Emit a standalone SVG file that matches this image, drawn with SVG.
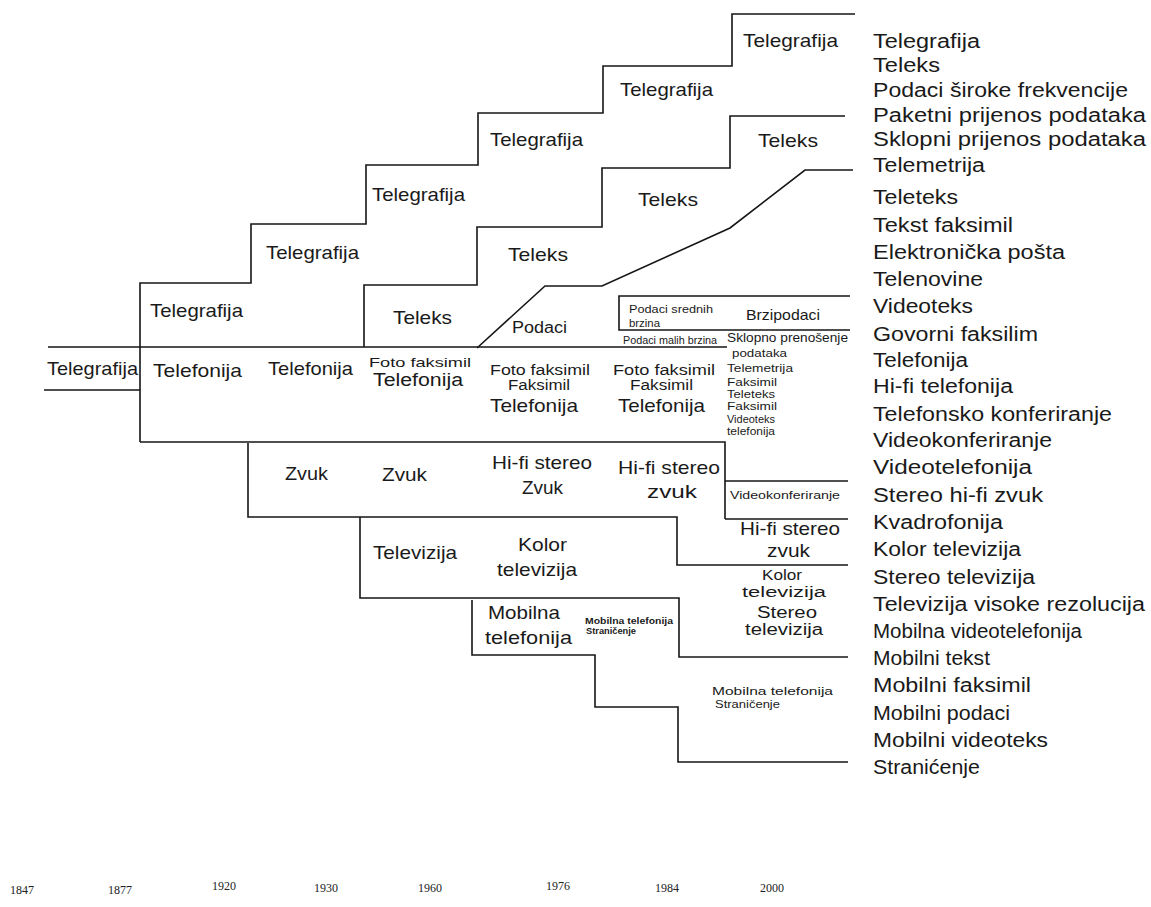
<svg xmlns="http://www.w3.org/2000/svg" width="1151" height="907" viewBox="0 0 1151 907">
<style>
.ln{fill:none;stroke:#161616;stroke-width:1.6;stroke-linejoin:miter}
.t{font-family:"Liberation Sans",Arial,sans-serif;fill:#1a1a1a}
.l{font-size:19px}
.m{font-size:15px}
.s{font-size:11px}
.xs{font-size:9px;font-weight:bold}
.r{font-size:20px}
.y{font-size:12px;font-family:"Liberation Serif","Times New Roman",serif;fill:#222}
</style>
<rect width="1151" height="907" fill="#fff"/>

<g id="band-telegrafija">
  <path class="ln" d="M48,347 H140 M44,390 H140 M140,442 V283 H251 V224 H366 V165 H478 V113 H603 V66 H732 V14 H855"/>
  <text class="t l" x="47" y="375" textLength="91" lengthAdjust="spacingAndGlyphs">Telegrafija</text>
  <text class="t l" x="150" y="317" textLength="93" lengthAdjust="spacingAndGlyphs">Telegrafija</text>
  <text class="t l" x="266" y="259" textLength="93" lengthAdjust="spacingAndGlyphs">Telegrafija</text>
  <text class="t l" x="372" y="201" textLength="93" lengthAdjust="spacingAndGlyphs">Telegrafija</text>
  <text class="t l" x="490" y="146" textLength="93" lengthAdjust="spacingAndGlyphs">Telegrafija</text>
  <text class="t l" x="620" y="96" textLength="93" lengthAdjust="spacingAndGlyphs">Telegrafija</text>
  <text class="t l" x="743" y="47" textLength="95" lengthAdjust="spacingAndGlyphs">Telegrafija</text>
</g>

<g id="band-teleks">
  <path class="ln" d="M364,347 V285 H477 V227 H602 V168 H730 V116 H845"/>
  <text class="t l" x="393" y="324" textLength="59" lengthAdjust="spacingAndGlyphs">Teleks</text>
  <text class="t l" x="508" y="261" textLength="60" lengthAdjust="spacingAndGlyphs">Teleks</text>
  <text class="t l" x="638" y="206" textLength="60" lengthAdjust="spacingAndGlyphs">Teleks</text>
  <text class="t l" x="758" y="147" textLength="60" lengthAdjust="spacingAndGlyphs">Teleks</text>
</g>

<g id="band-podaci">
  <path class="ln" d="M477,348 L545,286 H602 L730,228 L805,170 H853"/>
  <path class="ln" d="M850,296 H619 V330 H850"/>
  <text class="t" x="512" y="333" font-size="16" textLength="55" lengthAdjust="spacingAndGlyphs">Podaci</text>
  <text class="t s" x="629" y="313" textLength="84" lengthAdjust="spacingAndGlyphs">Podaci srednih</text>
  <text class="t s" x="629" y="327" textLength="31" lengthAdjust="spacingAndGlyphs">brzina</text>
  <text class="t m" x="746" y="320" textLength="74" lengthAdjust="spacingAndGlyphs">Brzipodaci</text>
  <text class="t" x="623" y="344" font-size="10" textLength="94" lengthAdjust="spacingAndGlyphs">Podaci malih brzina</text>
</g>

<g id="band-telefonija">
  <path class="ln" d="M140,347 H727 M140,442 H725 V519"/>
  <text class="t l" x="153" y="377" textLength="89" lengthAdjust="spacingAndGlyphs">Telefonija</text>
  <text class="t l" x="268" y="375" textLength="85" lengthAdjust="spacingAndGlyphs">Telefonija</text>
  <text class="t" x="369" y="367" font-size="13" textLength="102" lengthAdjust="spacingAndGlyphs">Foto faksimil</text>
  <text class="t" x="373" y="386" font-size="18" textLength="90" lengthAdjust="spacingAndGlyphs">Telefonija</text>
  <text class="t" x="490" y="375" font-size="14" textLength="100" lengthAdjust="spacingAndGlyphs">Foto faksimil</text>
  <text class="t" x="508" y="390" font-size="14" textLength="62" lengthAdjust="spacingAndGlyphs">Faksimil</text>
  <text class="t l" x="490" y="412" textLength="88" lengthAdjust="spacingAndGlyphs">Telefonija</text>
  <text class="t" x="613" y="375" font-size="14" textLength="102" lengthAdjust="spacingAndGlyphs">Foto faksimil</text>
  <text class="t" x="630" y="390" font-size="14" textLength="63" lengthAdjust="spacingAndGlyphs">Faksimil</text>
  <text class="t l" x="618" y="412" textLength="87" lengthAdjust="spacingAndGlyphs">Telefonija</text>
  <text class="t" x="727" y="342" font-size="12" textLength="121" lengthAdjust="spacingAndGlyphs">Sklopno prenošenje</text>
  <text class="t s" x="732" y="357" textLength="55" lengthAdjust="spacingAndGlyphs">podataka</text>
  <text class="t" x="727" y="372" font-size="10" textLength="66" lengthAdjust="spacingAndGlyphs">Telemetrija</text>
  <text class="t" x="727" y="386" font-size="10" textLength="50" lengthAdjust="spacingAndGlyphs">Faksimil</text>
  <text class="t" x="727" y="398" font-size="10" textLength="48" lengthAdjust="spacingAndGlyphs">Teleteks</text>
  <text class="t" x="727" y="410" font-size="10" textLength="50" lengthAdjust="spacingAndGlyphs">Faksimil</text>
  <text class="t" x="727" y="423" font-size="10" textLength="48" lengthAdjust="spacingAndGlyphs">Videoteks</text>
  <text class="t" x="727" y="435" font-size="10" textLength="48" lengthAdjust="spacingAndGlyphs">telefonija</text>
</g>

<g id="band-zvuk">
  <path class="ln" d="M248,443 V517 H677 V565 H848 M725,481 H848 M725,519 H848"/>
  <text class="t l" x="285" y="480" textLength="43" lengthAdjust="spacingAndGlyphs">Zvuk</text>
  <text class="t l" x="382" y="481" textLength="45" lengthAdjust="spacingAndGlyphs">Zvuk</text>
  <text class="t l" x="492" y="469" textLength="100" lengthAdjust="spacingAndGlyphs">Hi-fi stereo</text>
  <text class="t l" x="522" y="494" textLength="41" lengthAdjust="spacingAndGlyphs">Zvuk</text>
  <text class="t l" x="618" y="474" textLength="102" lengthAdjust="spacingAndGlyphs">Hi-fi stereo</text>
  <text class="t l" x="647" y="498" textLength="50" lengthAdjust="spacingAndGlyphs">zvuk</text>
  <text class="t s" x="730" y="499" textLength="110" lengthAdjust="spacingAndGlyphs">Videokonferiranje</text>
  <text class="t l" x="740" y="535" textLength="100" lengthAdjust="spacingAndGlyphs">Hi-fi stereo</text>
  <text class="t l" x="767" y="557" textLength="43" lengthAdjust="spacingAndGlyphs">zvuk</text>
</g>

<g id="band-televizija">
  <path class="ln" d="M360,517 V598 H679 V657 H848"/>
  <text class="t l" x="373" y="559" textLength="84" lengthAdjust="spacingAndGlyphs">Televizija</text>
  <text class="t l" x="518" y="551" textLength="49" lengthAdjust="spacingAndGlyphs">Kolor</text>
  <text class="t l" x="497" y="576" textLength="80" lengthAdjust="spacingAndGlyphs">televizija</text>
  <text class="t" x="762" y="580" font-size="14" textLength="40" lengthAdjust="spacingAndGlyphs">Kolor</text>
  <text class="t" x="742" y="597" font-size="14" textLength="84" lengthAdjust="spacingAndGlyphs">televizija</text>
  <text class="t" x="757" y="618" font-size="16" textLength="60" lengthAdjust="spacingAndGlyphs">Stereo</text>
  <text class="t" x="745" y="635" font-size="16" textLength="78" lengthAdjust="spacingAndGlyphs">televizija</text>
</g>

<g id="band-mobilna">
  <path class="ln" d="M472,600 V655 H595 V707 H678 V762 H848"/>
  <text class="t l" x="488" y="619" textLength="72" lengthAdjust="spacingAndGlyphs">Mobilna</text>
  <text class="t l" x="485" y="644" textLength="87" lengthAdjust="spacingAndGlyphs">telefonija</text>
  <text class="t xs" x="585" y="624" textLength="88" lengthAdjust="spacingAndGlyphs">Mobilna telefonija</text>
  <text class="t xs" x="586" y="634" textLength="50" lengthAdjust="spacingAndGlyphs">Straničenje</text>
  <text class="t s" x="712" y="695" textLength="121" lengthAdjust="spacingAndGlyphs">Mobilna telefonija</text>
  <text class="t s" x="715" y="708" textLength="65" lengthAdjust="spacingAndGlyphs">Straničenje</text>
</g>

<g id="services-list">
  <text class="t r" x="873" y="48" textLength="107" lengthAdjust="spacingAndGlyphs">Telegrafija</text>
  <text class="t r" x="873" y="72" textLength="67" lengthAdjust="spacingAndGlyphs">Teleks</text>
  <text class="t r" x="873" y="97" textLength="255" lengthAdjust="spacingAndGlyphs">Podaci široke frekvencije</text>
  <text class="t r" x="873" y="122" textLength="273" lengthAdjust="spacingAndGlyphs">Paketni prijenos podataka</text>
  <text class="t r" x="873" y="146" textLength="273" lengthAdjust="spacingAndGlyphs">Sklopni prijenos podataka</text>
  <text class="t r" x="873" y="172" textLength="112" lengthAdjust="spacingAndGlyphs">Telemetrija</text>
  <text class="t r" x="873" y="204" textLength="85" lengthAdjust="spacingAndGlyphs">Teleteks</text>
  <text class="t r" x="873" y="232" textLength="140" lengthAdjust="spacingAndGlyphs">Tekst faksimil</text>
  <text class="t r" x="873" y="259" textLength="192" lengthAdjust="spacingAndGlyphs">Elektronička pošta</text>
  <text class="t r" x="873" y="286" textLength="110" lengthAdjust="spacingAndGlyphs">Telenovine</text>
  <text class="t r" x="873" y="313" textLength="100" lengthAdjust="spacingAndGlyphs">Videoteks</text>
  <text class="t r" x="873" y="341" textLength="165" lengthAdjust="spacingAndGlyphs">Govorni faksilim</text>
  <text class="t r" x="873" y="367" textLength="95" lengthAdjust="spacingAndGlyphs">Telefonija</text>
  <text class="t r" x="873" y="393" textLength="140" lengthAdjust="spacingAndGlyphs">Hi-fi telefonija</text>
  <text class="t r" x="873" y="421" textLength="239" lengthAdjust="spacingAndGlyphs">Telefonsko konferiranje</text>
  <text class="t r" x="873" y="447" textLength="179" lengthAdjust="spacingAndGlyphs">Videokonferiranje</text>
  <text class="t r" x="873" y="474" textLength="159" lengthAdjust="spacingAndGlyphs">Videotelefonija</text>
  <text class="t r" x="873" y="502" textLength="170" lengthAdjust="spacingAndGlyphs">Stereo hi-fi zvuk</text>
  <text class="t r" x="873" y="529" textLength="130" lengthAdjust="spacingAndGlyphs">Kvadrofonija</text>
  <text class="t r" x="873" y="556" textLength="148" lengthAdjust="spacingAndGlyphs">Kolor televizija</text>
  <text class="t r" x="873" y="584" textLength="162" lengthAdjust="spacingAndGlyphs">Stereo televizija</text>
  <text class="t r" x="873" y="611" textLength="272" lengthAdjust="spacingAndGlyphs">Televizija visoke rezolucija</text>
  <text class="t r" x="873" y="638" textLength="209" lengthAdjust="spacingAndGlyphs">Mobilna videotelefonija</text>
  <text class="t r" x="873" y="665" textLength="117" lengthAdjust="spacingAndGlyphs">Mobilni tekst</text>
  <text class="t r" x="873" y="692" textLength="158" lengthAdjust="spacingAndGlyphs">Mobilni faksimil</text>
  <text class="t r" x="873" y="720" textLength="137" lengthAdjust="spacingAndGlyphs">Mobilni podaci</text>
  <text class="t r" x="873" y="747" textLength="175" lengthAdjust="spacingAndGlyphs">Mobilni videoteks</text>
  <text class="t r" x="873" y="774" textLength="107" lengthAdjust="spacingAndGlyphs">Stranićenje</text>
</g>

<g id="years">
  <text class="y" x="10" y="894">1847</text>
  <text class="y" x="108" y="894">1877</text>
  <text class="y" x="212" y="890">1920</text>
  <text class="y" x="314" y="892">1930</text>
  <text class="y" x="418" y="892">1960</text>
  <text class="y" x="546" y="890">1976</text>
  <text class="y" x="655" y="892">1984</text>
  <text class="y" x="760" y="892">2000</text>
</g>
</svg>
